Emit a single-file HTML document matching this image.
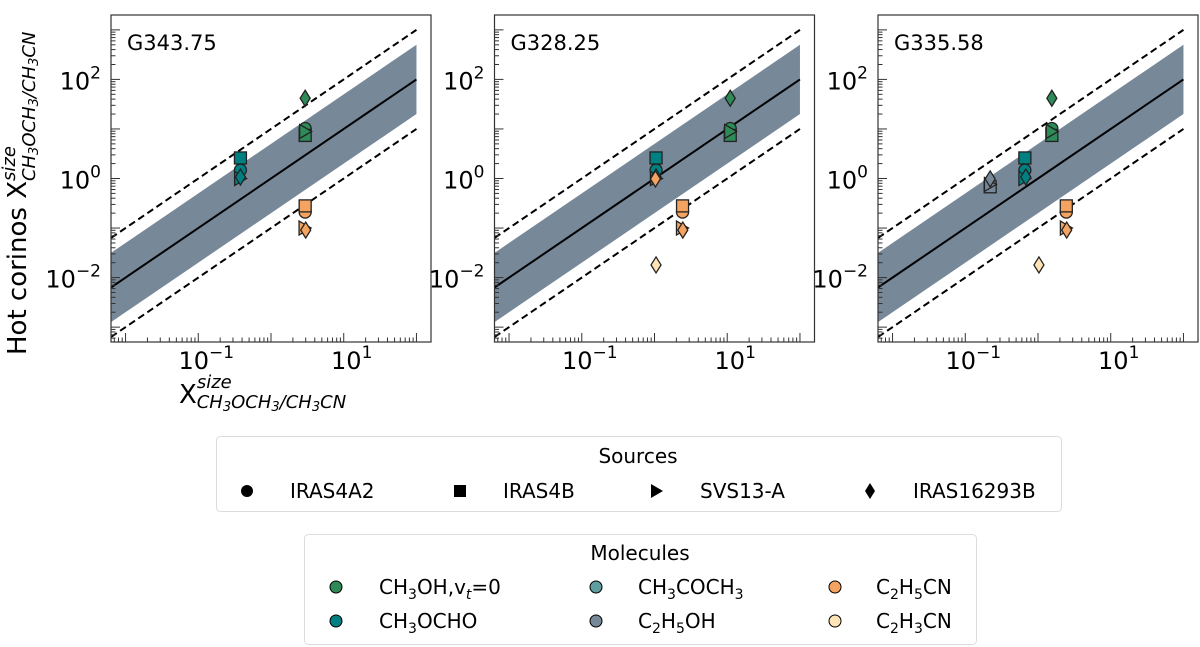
<!DOCTYPE html>
<html><head><meta charset="utf-8"><style>
html,body{margin:0;padding:0;background:#fff;}
svg{display:block;font-family:"DejaVu Sans","Liberation Sans",sans-serif;}
</style></head><body>
<svg id="fig" width="1200" height="647" viewBox="0 0 1200 647" xmlns="http://www.w3.org/2000/svg">
<g id="panels"></g>
<text transform="translate(26,355) rotate(-90)" font-size="26" fill="#000">Hot corinos X<tspan dy="-11" font-size="18" font-style="italic">size</tspan><tspan dx="-35" dy="20" font-size="18" font-style="italic">CH<tspan dy="3" font-size="13">3</tspan><tspan dy="-3">OCH</tspan><tspan dy="3" font-size="13">3</tspan><tspan dy="-3">/CH</tspan><tspan dy="3" font-size="13">3</tspan><tspan dy="-3">CN</tspan></tspan></text>
<text x="179" y="403" font-size="26" fill="#000">X<tspan dy="-15" font-size="18" font-style="italic">size</tspan><tspan dx="-35" dy="20" font-size="18" font-style="italic">CH<tspan dy="3" font-size="13">3</tspan><tspan dy="-3">OCH</tspan><tspan dy="3" font-size="13">3</tspan><tspan dy="-3">/CH</tspan><tspan dy="3" font-size="13">3</tspan><tspan dy="-3">CN</tspan></tspan></text>

<g>
<rect x="216.5" y="436.5" width="845" height="75" rx="4" fill="#fff" stroke="#dcdcdc"/>
<text x="638" y="463" font-size="20" text-anchor="middle">Sources</text>
<g><circle cx="247" cy="491" r="6"/><text x="290" y="498" font-size="20">IRAS4A2</text></g>
<g><rect x="454" y="485" width="12" height="12"/><text x="503" y="498" font-size="20">IRAS4B</text></g>
<g><polygon points="651,484 663,491 651,498"/><text x="700" y="498" font-size="20">SVS13-A</text></g>
<g><polygon points="870,483 875,491 870,499 865,491"/><text x="913" y="498" font-size="20">IRAS16293B</text></g>
</g>

<g>
<rect x="304.5" y="534.5" width="672" height="110" rx="4" fill="#fff" stroke="#dcdcdc"/>
<text x="640" y="560" font-size="20" text-anchor="middle">Molecules</text>
<g><circle cx="336" cy="587" r="6" fill="#2e8b57" stroke="#000"/><text x="379" y="594" font-size="20">CH<tspan dy="5" font-size="14">3</tspan><tspan dy="-5">OH,v</tspan><tspan dy="5" font-size="14" font-style="italic">t</tspan><tspan dy="-5">=0</tspan></text></g>
<g><circle cx="336" cy="621" r="6" fill="#008080" stroke="#000"/><text x="379" y="628" font-size="20">CH<tspan dy="5" font-size="14">3</tspan><tspan dy="-5">OCHO</tspan></text></g>
<g><circle cx="596" cy="587" r="6" fill="#5f9ea0" stroke="#000"/><text x="638" y="594" font-size="20">CH<tspan dy="5" font-size="14">3</tspan><tspan dy="-5">COCH</tspan><tspan dy="5" font-size="14">3</tspan></text></g>
<g><circle cx="596" cy="621" r="6" fill="#778899" stroke="#000"/><text x="638" y="628" font-size="20">C<tspan dy="5" font-size="14">2</tspan><tspan dy="-5">H</tspan><tspan dy="5" font-size="14">5</tspan><tspan dy="-5">OH</tspan></text></g>
<g><circle cx="835" cy="587" r="6" fill="#f4a460" stroke="#000"/><text x="876" y="594" font-size="20">C<tspan dy="5" font-size="14">2</tspan><tspan dy="-5">H</tspan><tspan dy="5" font-size="14">5</tspan><tspan dy="-5">CN</tspan></text></g>
<g><circle cx="835" cy="621" r="6" fill="#ffe4b5" stroke="#000"/><text x="876" y="628" font-size="20">C<tspan dy="5" font-size="14">2</tspan><tspan dy="-5">H</tspan><tspan dy="5" font-size="14">3</tspan><tspan dy="-5">CN</tspan></text></g>
</g>
</svg>
<script>
const panelNames = ["G343.75","G328.25","G335.58"];
// Panel 1 (G343.75)
const p1Molecule = ["CH3OCHO","CH3OCHO","CH3OCHO","CH3OCHO","CH3OH","CH3OH","CH3OH","CH3OH","C2H5CN","C2H5CN","C2H5CN","C2H5CN"];
const p1Source   = ["SVS13-A","IRAS4B","IRAS4A2","IRAS16293B","IRAS4A2","IRAS4B","SVS13-A","IRAS16293B","IRAS4B","IRAS4A2","SVS13-A","IRAS16293B"];
const p1X = [0.37,0.38,0.38,0.38,2.95,2.95,2.9,2.95,2.95,2.95,2.85,3.0];
const p1Y = [1.0,2.6,1.48,1.07,10.2,7.4,8.9,41.7,0.28,0.21,0.10,0.091];
// Panel 2 (G328.25)
const p2Molecule = ["CH3OCHO","CH3OCHO","CH3OCHO","CH3OCHO","C2H5CN","CH3OH","CH3OH","CH3OH","CH3OH","C2H5CN","C2H5CN","C2H5CN","C2H5CN","C2H3CN"];
const p2Source   = ["SVS13-A","IRAS4B","IRAS4A2","IRAS16293B","IRAS16293B","IRAS4A2","IRAS4B","SVS13-A","IRAS16293B","IRAS4B","IRAS4A2","SVS13-A","IRAS16293B","IRAS16293B"];
const p2X = [1.03,1.05,1.05,1.05,1.03,11.0,11.0,10.8,11.0,2.43,2.43,2.35,2.45,1.05];
const p2Y = [1.0,2.6,1.48,1.07,0.98,10.2,7.4,8.9,41.7,0.28,0.21,0.10,0.091,0.018];
// Panel 3 (G335.58)
const p3Molecule = ["C2H5OH","C2H5OH","C2H5OH","CH3OCHO","CH3OCHO","CH3OCHO","CH3OCHO","CH3OH","CH3OH","CH3OH","CH3OH","C2H5CN","C2H5CN","C2H5CN","C2H5CN","C2H3CN"];
const p3Source   = ["IRAS4B","SVS13-A","IRAS16293B","SVS13-A","IRAS4B","IRAS4A2","IRAS16293B","IRAS4A2","IRAS4B","SVS13-A","IRAS16293B","IRAS4B","IRAS4A2","SVS13-A","IRAS16293B","IRAS16293B"];
const p3X = [0.22,0.215,0.22,0.64,0.66,0.66,0.68,1.55,1.55,1.52,1.55,2.45,2.45,2.38,2.48,1.03];
const p3Y = [0.68,0.76,0.98,1.0,2.6,1.48,1.07,10.2,7.4,8.9,41.7,0.28,0.21,0.10,0.091,0.018];
const yTickExps = [-2,0,2];
const xTickExps = [-1,1];

const colors = {"CH3OH":"#2e8b57","CH3OCHO":"#008080","CH3COCH3":"#5f9ea0","C2H5OH":"#778899","C2H5CN":"#f4a460","C2H3CN":"#ffe4b5"};
const NS = "http://www.w3.org/2000/svg";
const panelLefts = [111,494.5,878];
const W = 320, TOP = 15, H = 327;
const XMIN = -2.2, XMAX = 2.2, YMIN = -3.3, YMAX = 3.3;
const root = document.getElementById("panels");

function mk(tag, attrs, parent){
  const e = document.createElementNS(NS, tag);
  for (const k in attrs) e.setAttribute(k, attrs[k]);
  parent.appendChild(e);
  return e;
}
function sup(n){return n<0?"\u2212"+(-n):String(n);}

const datasets = [[p1Molecule,p1Source,p1X,p1Y],[p2Molecule,p2Source,p2X,p2Y],[p3Molecule,p3Source,p3X,p3Y]];

panelLefts.forEach((L, pi) => {
  const sx = lx => L + (lx - XMIN) / (XMAX - XMIN) * W;
  const sy = ly => TOP + (YMAX - ly) / (YMAX - YMIN) * H;
  const g = mk("g", {}, root);
  
  
  const clipId = "clip" + pi;
  const cp = mk("clipPath", {id: clipId}, g);
  mk("rect", {x: L, y: TOP, width: W, height: H}, cp);
  const plot = mk("g", {"clip-path": "url(#" + clipId + ")"}, g);
  const x0 = XMIN, x1 = 2.0, f = Math.log10(5);
  const band = mk("polygon", {points: [[sx(x0),sy(x0+f)],[sx(x1),sy(x1+f)],[sx(x1),sy(x1-f)],[sx(x0),sy(x0-f)]].map(p=>p.join(",")).join(" "), fill: "#778899"}, plot);
  
  
  const line = mk("line", {x1: sx(x0), y1: sy(x0), x2: sx(x1), y2: sy(x1), stroke: "#000", "stroke-width": 2}, plot);
  
  
  [1, -1].forEach(d => {
    const dl = mk("line", {x1: sx(x0), y1: sy(x0+d), x2: sx(x1), y2: sy(x1+d), stroke: "#000", "stroke-width": 2, "stroke-dasharray": "7,4"}, plot);
    
    
  });
  const [mol, src, xs, ys] = datasets[pi];
  const order = ["IRAS4A2","IRAS4B","SVS13-A","IRAS16293B"];
  const idx = mol.map((m,i)=>i);
  order.forEach(s => {
    idx.filter(i => src[i] === s).forEach(i => {
      const cx = sx(Math.log10(xs[i])), cy = sy(Math.log10(ys[i]));
      const st = {fill: colors[mol[i]], stroke: "#222", "stroke-width": 1.3};
      let el;
      if (s === "IRAS4A2") el = mk("circle", Object.assign({cx, cy, r: 6}, st), g);
      else if (s === "IRAS4B") el = mk("rect", Object.assign({x: cx-6, y: cy-6, width: 12, height: 12}, st), g);
      else if (s === "SVS13-A") el = mk("polygon", Object.assign({points: `${cx-5},${cy-7} ${cx+7},${cy} ${cx-5},${cy+7}`}, st), g);
      else el = mk("polygon", Object.assign({points: `${cx},${cy-8} ${cx+5},${cy} ${cx},${cy+8} ${cx-5},${cy}`}, st), g);
      
      
    });
  });
  const fr = mk("rect", {x: L, y: TOP, width: W, height: H, fill: "none", stroke: "#333", "stroke-width": 1.2}, g);
  
  
  const tg = mk("g", {stroke: "#333", "stroke-width": 1}, g);
  for (let e = -4; e <= 3; e++) {
    for (let m = 1; m <= 9; m++) {
      const v = e + Math.log10(m);
      const len = m === 1 ? 9 : 4.5;
      if (v >= XMIN && v <= XMAX) mk("line", {x1: sx(v), y1: TOP+H, x2: sx(v), y2: TOP+H-len}, tg);
      if (v >= YMIN && v <= YMAX) mk("line", {x1: L, y1: sy(v), x2: L+len, y2: sy(v)}, tg);
    }
  }
  yTickExps.forEach(e => {
    const t = mk("text", {x: L - 10, y: sy(e) + 10, "font-size": 24, "text-anchor": "end"}, g);
    
    
    t.innerHTML = '10<tspan dy="-11" font-size="17">' + sup(e) + '</tspan>';
  });
  xTickExps.forEach(e => {
    const t = mk("text", {x: sx(e) + 8, y: TOP + H + 27, "font-size": 24, "text-anchor": "middle"}, g);
    
    
    t.innerHTML = '10<tspan dy="-11" font-size="17">' + sup(e) + '</tspan>';
  });
  const title = mk("text", {x: L + 16, y: TOP + 35, "font-size": 21}, g);
  
  
  title.textContent = panelNames[pi];
});
</script>
</body></html>
